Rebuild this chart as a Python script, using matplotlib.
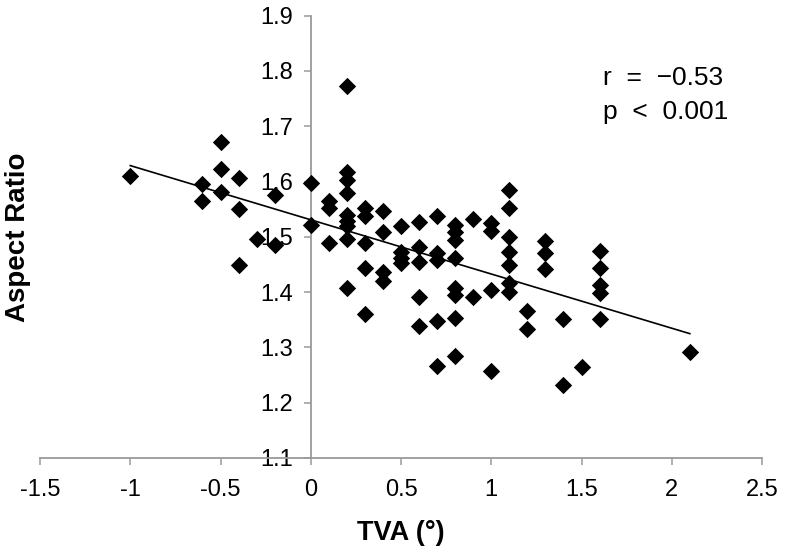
import numpy as np
import matplotlib
matplotlib.use("Agg")
import matplotlib.pyplot as plt

plt.rcParams['font.family'] = ['Liberation Sans', 'DejaVu Sans']

# TVA (deg) and aspect ratio, grouped by TVA value
tva_groups = [-1.0, -0.6, -0.5, -0.4, -0.3, -0.2, 0.0, 0.1, 0.2, 0.3, 0.4, 0.5,
              0.6, 0.7, 0.8, 0.9, 1.0, 1.1, 1.2, 1.3, 1.4, 1.5, 1.6, 2.1]
ratio_groups = [
    [1.610],
    [1.596, 1.564],
    [1.672, 1.622, 1.582],
    [1.607, 1.550, 1.449],
    [1.497],
    [1.576, 1.485],
    [1.598, 1.521],
    [1.564, 1.552, 1.488],
    [1.773, 1.618, 1.603, 1.580, 1.540, 1.528, 1.519, 1.497, 1.407],
    [1.552, 1.537, 1.489, 1.443, 1.360],
    [1.546, 1.509, 1.436, 1.421],
    [1.520, 1.473, 1.461, 1.452],
    [1.527, 1.482, 1.455, 1.392, 1.339],
    [1.537, 1.470, 1.458, 1.348, 1.267],
    [1.521, 1.509, 1.494, 1.461, 1.407, 1.395, 1.353, 1.285],
    [1.532, 1.392],
    [1.525, 1.511, 1.403, 1.257],
    [1.585, 1.553, 1.499, 1.473, 1.449, 1.416, 1.401],
    [1.365, 1.333],
    [1.493, 1.471, 1.441],
    [1.352, 1.232],
    [1.264],
    [1.475, 1.443, 1.413, 1.398, 1.352],
    [1.291],
]
x_ticks = [-1.5, -1, -0.5, 0, 0.5, 1, 1.5, 2, 2.5]
x_tick_labels = ['-1.5', '-1', '-0.5', '0', '0.5', '1', '1.5', '2', '2.5']
y_ticks = [1.1, 1.2, 1.3, 1.4, 1.5, 1.6, 1.7, 1.8, 1.9]
stats_text = "r  =  \u22120.53\np  <  0.001"

tva = np.concatenate([[t] * len(g) for t, g in zip(tva_groups, ratio_groups)])
ratio = np.concatenate(ratio_groups)

# linear trend over the data range
slope, intercept = np.polyfit(tva, ratio, 1)
fit_x = np.array([tva.min(), tva.max()])

fig = plt.figure(figsize=(7.86, 5.53), dpi=100)
ax = fig.add_axes([0.0509, 0.1718, 0.9186, 0.7998])

ax.scatter(tva, ratio, marker='D', s=78, color='black', zorder=3, linewidths=0)
ax.plot(fit_x, slope * fit_x + intercept, color='black', lw=1.2, zorder=2)

ax.set_xlim(-1.5, 2.5)
ax.set_ylim(1.1, 1.9)
ax.set_xticks(x_ticks)
ax.set_xticklabels(x_tick_labels)
ax.set_yticks(y_ticks)
ax.set_yticklabels([f'{v:.1f}' for v in y_ticks])

grey = '#9a9a9a'
ax.spines['left'].set_position(('data', 0))
ax.spines['top'].set_visible(False)
ax.spines['right'].set_visible(False)
for s in ('left', 'bottom'):
    ax.spines[s].set_color(grey)
    ax.spines[s].set_linewidth(1.3)
ax.tick_params(axis='both', direction='out', length=5, width=1.1, color=grey,
               labelsize=17, labelcolor='black')
ax.tick_params(axis='x', pad=10)
ax.tick_params(axis='y', pad=8)

ax.set_xlabel('TVA (\u00b0)', fontsize=19.5, fontweight='bold')
ax.xaxis.set_label_coords(0.5, -0.14)
ax.set_ylabel('Aspect Ratio', fontsize=20, fontweight='bold')
ax.yaxis.set_label_coords(-0.012, 0.5)

ax.text(1.62, 1.809, stats_text, fontsize=19, va='top', ha='left', linespacing=1.5)

fig.savefig('out.png', dpi=100)
